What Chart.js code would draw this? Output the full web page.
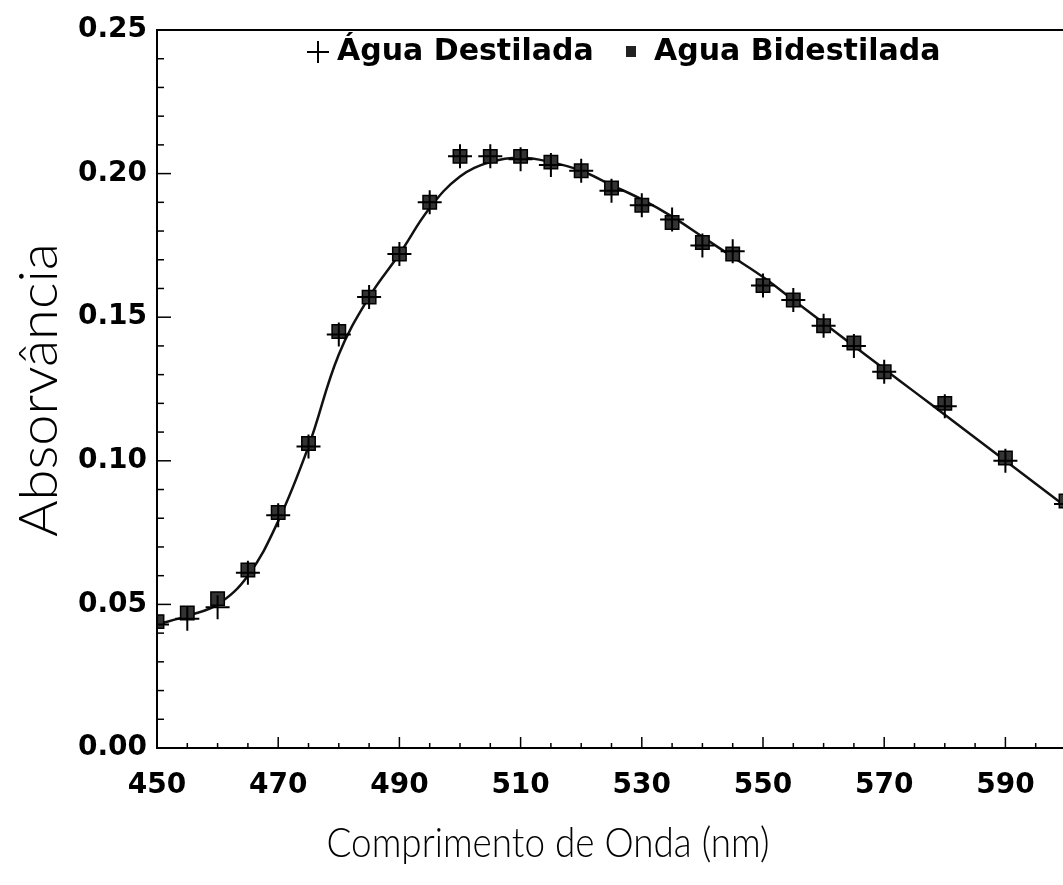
<!DOCTYPE html>
<html>
<head>
<meta charset="utf-8">
<script src="https://cdn.jsdelivr.net/npm/chart.js@4"></script>
<style>
  body { margin: 0; background: #fff; overflow: hidden; }
  #wrap { width: 1080px; height: 885px; }
</style>
</head>
<body>
<div id="wrap"><canvas id="grafico" width="1080" height="885"></canvas></div>
<script>
// dados
const comprimentos = [450, 455, 460, 465, 470, 475, 480, 485, 490, 495, 500, 505, 510, 515, 520, 525, 530, 535, 540, 545, 550, 555, 560, 565, 570, 580, 590, 600];
const aguaDestilada = [0.043, 0.045, 0.049, 0.061, 0.081, 0.105, 0.144, 0.157, 0.172, 0.190, 0.206, 0.206, 0.205, 0.203, 0.201, 0.194, 0.189, 0.184, 0.175, 0.173, 0.161, 0.156, 0.147, 0.140, 0.131, 0.119, 0.100, 0.085];
const aguaBidestilada = [0.044, 0.047, 0.052, 0.062, 0.082, 0.106, 0.145, 0.157, 0.172, 0.190, 0.206, 0.206, 0.206, 0.204, 0.201, 0.195, 0.189, 0.183, 0.176, 0.172, 0.161, 0.156, 0.147, 0.141, 0.131, 0.120, 0.101, 0.086];

// curva ajustada
const ajusteX = [450, 455, 460, 465, 470, 475, 480, 485, 490, 495, 500, 505, 510, 515, 520, 525, 530, 535, 540, 545, 550, 555, 560, 565, 570, 575, 580, 585, 590, 595, 600];
const ajusteY = [0.043, 0.046, 0.050, 0.060, 0.079, 0.105, 0.137, 0.157, 0.172, 0.188, 0.199, 0.204, 0.2055, 0.204, 0.201, 0.196, 0.191, 0.185, 0.178, 0.171, 0.164, 0.156, 0.148, 0.140, 0.132, 0.124, 0.116, 0.108, 0.100, 0.092, 0.084];

// eixos
const xRotulos = [450, 470, 490, 510, 530, 550, 570, 590];
const yRotulos = [0, 0.05, 0.10, 0.15, 0.20, 0.25];
const tituloX = 'Comprimento de Onda (nm)';
const tituloY = 'Absorvância';

const pares = (xs, ys) => xs.map((x, i) => ({ x: x, y: ys[i] }));

const fonteNum = { family: "'DejaVu Sans', sans-serif", weight: 'bold', size: 28 };

// escreve texto ajustado a uma largura
function textoAjustado(c, txt, fonte, x, y, larg, rot) {
  c.save();
  c.font = fonte;
  const w = c.measureText(txt).width;
  c.translate(x, y);
  c.rotate(rot);
  c.scale(larg / w, 1);
  c.textAlign = 'center';
  c.textBaseline = 'middle';
  c.fillStyle = '#000';
  c.fillText(txt, 0, 0);
  c.restore();
}

// marcas de escala para dentro + moldura + legenda + titulos
const extras = {
  id: 'extras',
  afterDraw(chart) {
    const c = chart.ctx, a = chart.chartArea;
    const sx = chart.scales.x, sy = chart.scales.y;
    c.save();
    c.strokeStyle = '#000';
    c.lineWidth = 2;
    c.beginPath();
    c.moveTo(a.left, a.top); c.lineTo(a.right, a.top);
    c.stroke();
    c.lineWidth = 1.5;
    for (let k = 0; k <= 25; k++) {
      const py = sy.getPixelForValue(k / 100);
      const len = k % 5 === 0 ? 14 : 7;
      c.beginPath(); c.moveTo(a.left, py); c.lineTo(a.left + len, py); c.stroke();
    }
    for (let v = 455; v <= 600; v += 5) {
      const px = sx.getPixelForValue(v);
      const len = xRotulos.includes(v) ? 11 : 5;
      c.beginPath(); c.moveTo(px, a.bottom); c.lineTo(px, a.bottom - len); c.stroke();
    }
    // legenda
    const ly = 52;
    c.lineWidth = 2;
    c.beginPath();
    c.moveTo(307, ly); c.lineTo(329, ly);
    c.moveTo(318, ly - 11); c.lineTo(318, ly + 11);
    c.stroke();
    c.fillStyle = '#222';
    c.fillRect(626, ly - 6, 10, 11);
    c.fillStyle = '#000';
    c.font = "bold 30px 'DejaVu Sans', sans-serif";
    c.textBaseline = 'middle';
    c.fillText('Água Destilada', 337, ly);
    c.fillText('Agua Bidestilada', 654, ly);
    c.restore();
    textoAjustado(c, tituloX, "300 42px Lato, 'Liberation Sans', sans-serif", 548, 843, 443, 0);
    textoAjustado(c, tituloY, "300 54px Lato, 'Liberation Sans', sans-serif", 40, 390, 294, -Math.PI / 2);
  }
};

new Chart(document.getElementById('grafico'), {
  type: 'scatter',
  data: {
    datasets: [
      {
        label: 'Água Destilada',
        data: pares(comprimentos, aguaDestilada),
        pointStyle: 'cross',
        pointRadius: 12,
        borderColor: '#000',
        borderWidth: 2,
        order: 0
      },
      {
        label: 'Agua Bidestilada',
        data: pares(comprimentos, aguaBidestilada),
        pointStyle: 'rect',
        pointRadius: 9.5,
        backgroundColor: '#333',
        borderColor: '#000',
        borderWidth: 1.5,
        order: 1
      },
      {
        label: 'ajuste',
        data: pares(ajusteX, ajusteY),
        showLine: true,
        pointRadius: 0,
        borderColor: '#111',
        borderWidth: 2.5,
        tension: 0.4,
        order: 2
      }
    ]
  },
  options: {
    responsive: false,
    animation: false,
    layout: { padding: { top: 30, right: 7, left: 0, bottom: 0 } },
    plugins: { legend: { display: false }, tooltip: { enabled: false } },
    scales: {
      x: {
        type: 'linear',
        min: 450, max: 600,
        afterBuildTicks: s => { s.ticks = xRotulos.map(v => ({ value: v })); },
        afterFit: s => { s.height = 137; },
        grid: { display: false, drawTicks: false },
        border: { display: true, color: '#000', width: 2 },
        ticks: { color: '#000', font: fonteNum, padding: 21, maxRotation: 0 }
      },
      y: {
        min: 0, max: 0.25,
        afterBuildTicks: s => { s.ticks = yRotulos.map(v => ({ value: v })); },
        afterFit: s => { s.width = 157; },
        grid: { display: false, drawTicks: false },
        border: { display: true, color: '#000', width: 2 },
        ticks: { color: '#000', font: fonteNum, padding: 10, callback: v => v.toFixed(2) }
      }
    }
  },
  plugins: [extras]
});
</script>
</body>
</html>
